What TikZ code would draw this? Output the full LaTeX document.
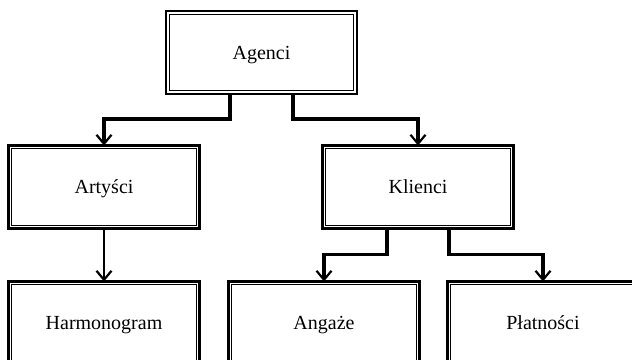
\documentclass[tikz,border=0pt]{standalone}
\usepackage{fontspec}
\setmainfont{Liberation Serif}
\usetikzlibrary{arrows.meta,calc}

\tikzset{
  unit/.style={draw, line width=2.4pt, inner sep=0pt, outer sep=0pt,
    minimum width=191pt, minimum height=83pt,
    text height=13.2pt, text depth=0pt,
    font=\fontsize{20}{24}\selectfont},
  link/.style={line width=3.4pt, -{Straight Barb[length=9pt,width=15pt,line width=2.2pt]}},
  thinlink/.style={line width=2.2pt, -{Straight Barb[length=9pt,width=15pt,line width=2.2pt]}},
  innerframe/.style={line width=1.1pt}
}

\begin{document}
\begin{tikzpicture}[x=1pt,y=-1pt]
  \useasboundingbox (0,0) rectangle (632,359);
  \clip (0,0) rectangle (632,359);
  \fill[white] (0,0) rectangle (632,359);

  % boxes
  \node[unit] (ag) at (261.5,52.5) {Agenci};
  \node[unit] (art) at (104,187) {Artyści};
  \node[unit] (kl) at (418,187) {Klienci};
  \node[unit] (har) at (104,323) {Harmonogram};
  \node[unit] (ang) at (324,323) {Angaże};
  \node[unit] (pla) at (543,323) {Płatności};

  % inner line of each double frame
  \foreach \n in {ag,art,kl,har,ang,pla}
    \draw[innerframe] ([shift={(3.2pt,-3.2pt)}]\n.north west) rectangle ([shift={(-3.2pt,3.2pt)}]\n.south east);

  % connectors
  \draw[link] ([xshift=-31.5pt]ag.south) -- ++(0,25) -| (art.north);
  \draw[link] ([xshift=31.5pt]ag.south) -- ++(0,25) -| (kl.north);
  \draw[thinlink] (art.south) -- (har.north);
  \draw[link] ([xshift=-31pt]kl.south) -- ++(0,26) -| (ang.north);
  \draw[link] ([xshift=31pt]kl.south) -- ++(0,26) -| (pla.north);
\end{tikzpicture}
\end{document}
